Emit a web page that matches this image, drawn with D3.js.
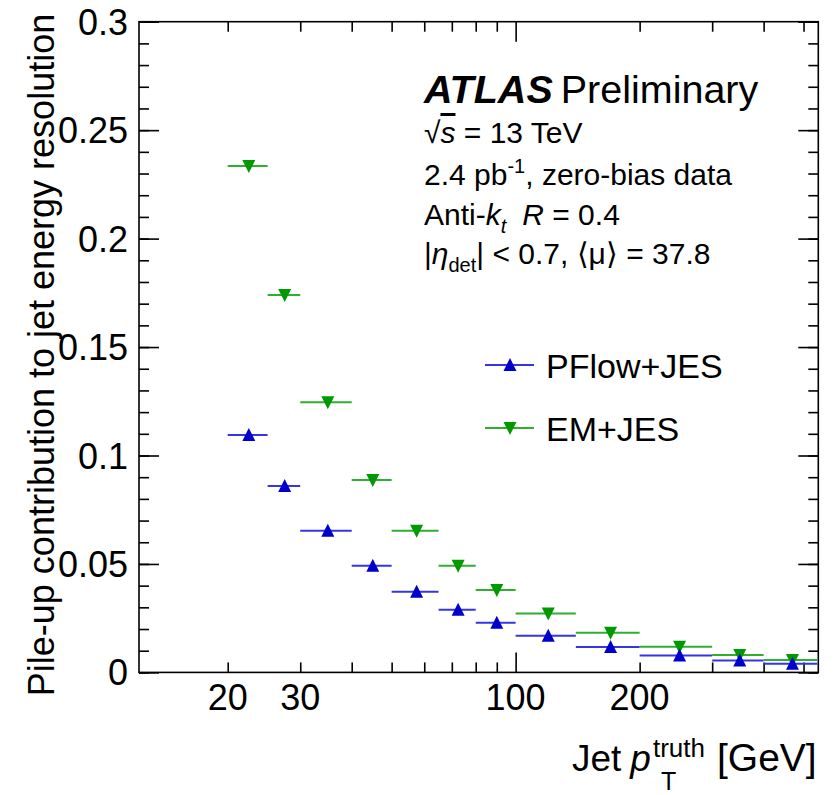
<!DOCTYPE html>
<html>
<head>
<meta charset="utf-8">
<script src="https://cdn.jsdelivr.net/npm/d3@7"></script>
<style>
  body { margin: 0; background: #fff; }
  text { font-family: "Liberation Sans", Arial, sans-serif; }
</style>
</head>
<body>
<div id="chart"></div>
<script>
// bin edges in GeV
const binEdges = [20, 25, 30, 40, 50, 65, 80, 100, 140, 200, 300, 400, 540];
const pflowJES = [0.1094, 0.0859, 0.0653, 0.0492, 0.0372, 0.0289, 0.0229, 0.0169, 0.0117, 0.0078, 0.0055, 0.0040];
const emJES = [0.2335, 0.174, 0.1245, 0.0887, 0.0653, 0.0492, 0.0380, 0.0272, 0.0183, 0.0118, 0.0080, 0.0057];

const xTickLabels = [20, 30, 100, 200];
const xMinorTicks = [20, 30, 40, 50, 60, 70, 80, 90, 200, 300, 400, 500];
const xMajorTicks = [100];
const yTickLabels = ["0", "0.05", "0.1", "0.15", "0.2", "0.25", "0.3"];
const yMajorTicks = [0, 0.05, 0.1, 0.15, 0.2, 0.25, 0.3];
const yMinorTicks = d3.range(0, 31).map(d => d / 100);

function renderChart() {
  const width = 838;
  const height = 795;
  const left = 139, right = 818.3, top = 21.7, bottom = 672.4;

  const svg = d3.select("#chart")
    .append("svg")
    .attr("width", width)
    .attr("height", height)
    .style("background", "#fff");

  const x = d3.scaleLog().domain([12.18, 543]).range([left, right]);
  const y = d3.scaleLinear().domain([0, 0.3]).range([bottom, top]);

  // axes: ticks point inward, on all four sides
  function tickAxis(axisFn, scale, ticks, size, tx, ty) {
    const g = svg.append("g")
      .attr("transform", `translate(${tx},${ty})`)
      .call(axisFn(scale).tickValues(ticks).tickSize(-size).tickFormat(""));
    g.select(".domain").remove();
    g.selectAll("line").attr("stroke", "#000").attr("stroke-width", 1.6);
  }
  tickAxis(d3.axisLeft, y, yMinorTicks, 10, left, 0);
  tickAxis(d3.axisLeft, y, yMajorTicks, 20, left, 0);
  tickAxis(d3.axisRight, y, yMinorTicks, 10, right, 0);
  tickAxis(d3.axisRight, y, yMajorTicks, 20, right, 0);
  tickAxis(d3.axisBottom, x, xMinorTicks, 10, 0, bottom);
  tickAxis(d3.axisBottom, x, xMajorTicks, 20, 0, bottom);
  tickAxis(d3.axisTop, x, xMinorTicks, 10, 0, top);
  tickAxis(d3.axisTop, x, xMajorTicks, 20, 0, top);

  svg.append("rect")
    .attr("x", left).attr("y", top)
    .attr("width", right - left).attr("height", bottom - top)
    .attr("fill", "none")
    .attr("stroke", "#000")
    .attr("stroke-width", 1.6);

  // tick labels
  svg.append("g").selectAll("text")
    .data(yMajorTicks)
    .join("text")
    .attr("x", 128)
    .attr("y", d => y(d) + 13)
    .attr("text-anchor", "end")
    .attr("font-size", 36)
    .text((d, i) => yTickLabels[i]);

  svg.append("g").selectAll("text")
    .data(xTickLabels)
    .join("text")
    .attr("x", d => x(d))
    .attr("y", 710)
    .attr("text-anchor", "middle")
    .attr("font-size", 36)
    .text(d => d);

  // data: horizontal bin-width bars + triangle markers
  const bins = binEdges.slice(0, -1).map((lo, i) => ({ lo: lo, hi: binEdges[i + 1], mid: (lo + binEdges[i + 1]) / 2 }));
  const series = [
    { name: "EM+JES", values: emJES, color: "#009900", line: "#2fae2f", up: false },
    { name: "PFlow+JES", values: pflowJES, color: "#0000cc", line: "#3535e6", up: true }
  ];

  function triangle(cx, cy, up) {
    return up
      ? `M${cx - 6.5},${cy + 6}L${cx + 6.5},${cy + 6}L${cx},${cy - 7}Z`
      : `M${cx - 6.5},${cy - 6}L${cx + 6.5},${cy - 6}L${cx},${cy + 7}Z`;
  }

  series.forEach(s => {
    const g = svg.append("g");
    g.selectAll("line")
      .data(bins)
      .join("line")
      .attr("x1", d => x(d.lo))
      .attr("x2", d => Math.min(x(d.hi), right))
      .attr("y1", (d, i) => y(s.values[i]))
      .attr("y2", (d, i) => y(s.values[i]))
      .attr("stroke", s.line)
      .attr("stroke-width", 2);
    g.selectAll("path")
      .data(bins)
      .join("path")
      .attr("d", (d, i) => triangle(x(d.mid), y(s.values[i]), s.up))
      .attr("fill", s.color);
  });

  // legend
  const legend = [series[1], series[0]];
  legend.forEach((s, i) => {
    const ly = 365 + i * 63;
    svg.append("line")
      .attr("x1", 485).attr("x2", 534)
      .attr("y1", ly).attr("y2", ly)
      .attr("stroke", s.line).attr("stroke-width", 2);
    svg.append("path").attr("d", triangle(510, ly, s.up)).attr("fill", s.color);
    svg.append("text")
      .attr("x", 546).attr("y", ly + 13)
      .attr("font-size", 34)
      .text(s.name);
  });

  // ATLAS label
  const atlas = svg.append("text").attr("x", 424).attr("y", 103).attr("font-size", 39.5);
  atlas.append("tspan").attr("font-weight", "bold").attr("font-style", "italic").text("ATLAS");
  atlas.append("tspan").attr("dx", 8).text("Preliminary");

  const info = svg.append("g").attr("font-size", 30);
  const l1 = info.append("text").attr("x", 424).attr("y", 143);
  l1.append("tspan").text("√");
  l1.append("tspan").attr("font-style", "italic").style("text-decoration", "overline").text("s");
  l1.append("tspan").text(" = 13 TeV");

  const l2 = info.append("text").attr("x", 424).attr("y", 185);
  l2.append("tspan").text("2.4 pb");
  l2.append("tspan").attr("font-size", 20).attr("dy", -12).text("-1");
  l2.append("tspan").attr("dy", 12).text(", zero-bias data");

  const l3 = info.append("text").attr("x", 424).attr("y", 225);
  l3.append("tspan").text("Anti-");
  l3.append("tspan").attr("font-style", "italic").text("k");
  l3.append("tspan").attr("font-style", "italic").attr("font-size", 20).attr("dy", 8).text("t");
  l3.append("tspan").attr("dy", -8).attr("dx", 16).attr("font-style", "italic").text("R");
  l3.append("tspan").text(" = 0.4");

  const l4 = info.append("text").attr("x", 424).attr("y", 264);
  l4.append("tspan").text("|");
  l4.append("tspan").attr("font-style", "italic").text("η");
  l4.append("tspan").attr("font-size", 20).attr("dy", 8).text("det");
  l4.append("tspan").attr("dy", -8).text("| < 0.7, ⟨μ⟩ = 37.8");

  // axis titles
  svg.append("text")
    .attr("transform", "translate(54,355) rotate(-90)")
    .attr("text-anchor", "middle")
    .attr("font-size", 36)
    .text("Pile-up contribution to jet energy resolution");

  const tx = svg.append("g").attr("font-size", 37);
  const jet = tx.append("text").attr("x", 572).attr("y", 771).text("Jet");
  const px = 572 + jet.node().getComputedTextLength() + 9;
  const p = tx.append("text").attr("x", px).attr("y", 771).attr("font-style", "italic").text("p");
  const sx = px + p.node().getComputedTextLength() + 2;
  const sup = tx.append("text").attr("x", sx).attr("y", 757).attr("font-size", 26).text("truth");
  tx.append("text").attr("x", sx + 8).attr("y", 790).attr("font-size", 25).text("T");
  tx.append("text").attr("x", sx + sup.node().getComputedTextLength() + 12).attr("y", 771).attr("font-size", 39).text("[GeV]");
}

renderChart();
</script>
</body>
</html>
